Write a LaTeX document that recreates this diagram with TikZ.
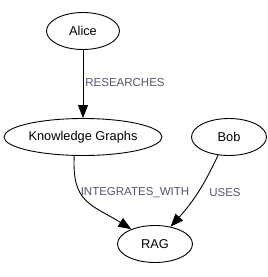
\documentclass[tikz,border=0pt]{standalone}
\usepackage{fontspec}
\setmainfont{Liberation Sans}
\usetikzlibrary{arrows.meta,shapes.geometric}
\definecolor{labelgray}{RGB}{85,85,110}
\tikzset{
	entity/.style={draw, ellipse, line width=0.9pt, inner sep=0pt, minimum height=37pt, font=\fontsize{12.8}{14}\selectfont},
	rel/.style={text=labelgray, inner sep=0pt, font=\fontsize{11.5}{13}\selectfont},
	flow/.style={-{Triangle[length=13pt, width=10pt]}, line width=0.9pt}
}
\begin{document}
\begin{tikzpicture}[x=1pt, y=-1pt]
	\useasboundingbox (0,0) rectangle (268,277);
	\node[entity, minimum width=73pt] (alice) at (83,31) {Alice};
	\node[entity, minimum width=158pt] (kg) at (83,137) {Knowledge Graphs};
	\node[entity, minimum width=75pt] (bob) at (229,137) {Bob};
	\node[entity, minimum width=75pt] (rag) at (155,244) {RAG};
	\node[rel] (researches) at (125,83) {RESEARCHES};
	\node[rel] (integrates) at (135,193) {INTEGRATES\_WITH};
	\node[rel] (uses) at (225,193) {USES};
	\draw[flow] (alice) -- (kg);
	\draw[flow] (kg.-115) to[out=-93, in=148, looseness=1.3] (rag);
	\draw[flow] (bob.-121) to[out=-115, in=48] (rag);
\end{tikzpicture}
\end{document}
